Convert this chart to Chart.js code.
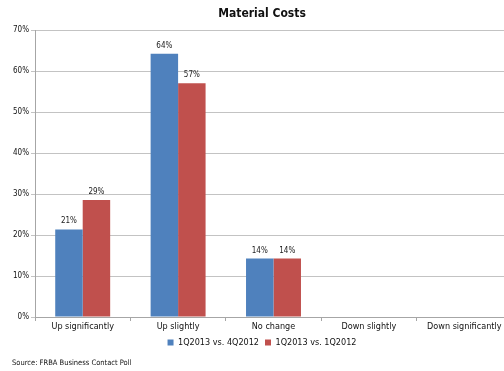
<!DOCTYPE html>
<html>
<head>
<meta charset="utf-8">
<script src="https://cdn.jsdelivr.net/npm/chart.js@4/dist/chart.umd.min.js"></script>
<style>
  html, body { margin: 0; padding: 0; background: #fff; overflow: hidden; }
  #wrap { width: 512px; height: 371px; }
</style>
</head>
<body>
<div id="wrap"><canvas id="chart" width="512" height="371"></canvas></div>
<script>
const categories = ['Up significantly', 'Up slightly', 'No change', 'Down slightly', 'Down significantly'];
const seriesNames = ['1Q2013 vs. 4Q2012', '1Q2013 vs. 1Q2012'];
const vsPrevQuarter = [21.4, 64.3, 14.3, 0, 0];
const vsYearAgo = [28.6, 57.1, 14.3, 0, 0];
const yTicks = [0, 10, 20, 30, 40, 50, 60, 70];

const FONT = "'DejaVu Sans Condensed', 'DejaVu Sans', sans-serif";

// labels above each non-zero bar
const barLabels = {
    id: 'barLabels',
    afterDatasetsDraw(chart) {
        const ctx = chart.ctx;
        ctx.save();
        ctx.font = '8px ' + FONT;
        ctx.fillStyle = '#222';
        ctx.textAlign = 'center';
        ctx.textBaseline = 'bottom';
        chart.data.datasets.forEach((ds, i) => {
            chart.getDatasetMeta(i).data.forEach((bar, j) => {
                if (!ds.data[j]) return;
                ctx.fillText(Math.round(ds.data[j]) + '%', bar.x, bar.y - 4);
            });
        });
        ctx.restore();
    }
};

new Chart(document.getElementById('chart'), {
    type: 'bar',
    data: {
        labels: categories,
        datasets: [{
            label: seriesNames[0],
            data: vsPrevQuarter,
            backgroundColor: '#4f81bd'
        }, {
            label: seriesNames[1],
            data: vsYearAgo,
            backgroundColor: '#c0504d'
        }]
    },
    options: {
        responsive: false,
        animation: false,
        layout: { padding: { top: 5, left: 12, right: 0, bottom: 0 } },
        datasets: {
            bar: { categoryPercentage: 0.576, barPercentage: 1 }
        },
        scales: {
            x: {
                offset: true,
                grid: { drawOnChartArea: false, tickLength: 4, color: '#a6a6a6', offset: true },
                border: { color: '#a6a6a6' },
                ticks: { color: '#111', font: { family: FONT, size: 9 }, padding: 0, maxRotation: 0 },
                afterFit(scale) { scale.height = 15; }
            },
            y: {
                min: 0,
                max: 70,
                afterBuildTicks(scale) { scale.ticks = yTicks.map(v => ({ value: v })); },
                grid: { color: '#c3c3c3', tickLength: 4 },
                border: { color: '#a6a6a6' },
                ticks: {
                    color: '#111',
                    font: { family: FONT, size: 8 },
                    padding: 2,
                    callback: v => v + '%'
                },
                afterFit(scale) { scale.width = 23; }
            }
        },
        plugins: {
            title: {
                display: true,
                text: 'Material Costs',
                color: '#111',
                font: { family: FONT, size: 12, weight: 'bold' },
                padding: { top: 2, bottom: 9 }
            },
            legend: {
                position: 'bottom',
                labels: {
                    boxWidth: 6,
                    boxHeight: 6,
                    color: '#111',
                    font: { family: FONT, size: 9 },
                    padding: 6
                }
            },
            subtitle: {
                display: true,
                position: 'bottom',
                align: 'start',
                text: 'Source: FRBA Business Contact Poll',
                color: '#111',
                font: { family: FONT, size: 7.5 },
                padding: { top: 2, bottom: 3 }
            },
            tooltip: { enabled: false }
        }
    },
    plugins: [barLabels]
});
</script>
</body>
</html>
